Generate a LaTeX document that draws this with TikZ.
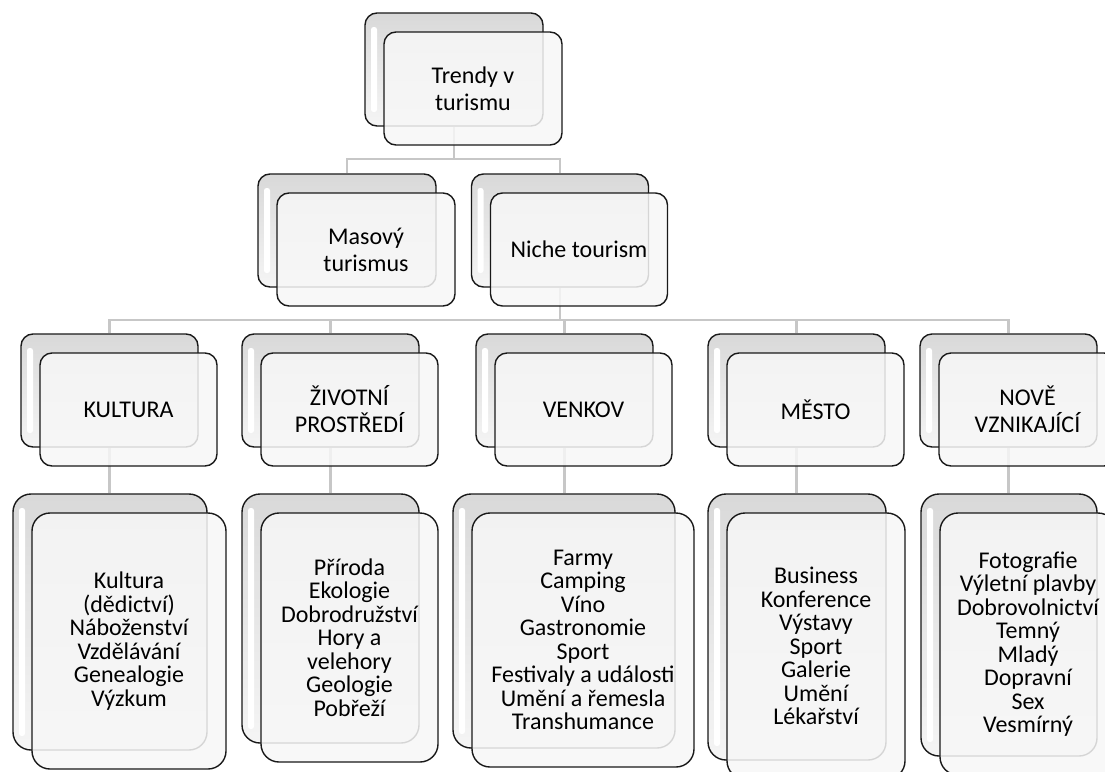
\documentclass[tikz,border=0pt]{standalone}
\usepackage{fontspec}
\setmainfont{Carlito}
\usetikzlibrary{backgrounds}
\AtBeginDocument{\lineskiplimit=-30pt\relax}

\tikzset{
  backbox/.style={draw=black!90, line width=1.4pt, rounded corners=12pt, inner sep=0pt,
    top color=black!15, bottom color=black!4,
    path picture={\fill[white, rounded corners=2.5pt]
      ([xshift=6pt,yshift=-14pt]path picture bounding box.north west) rectangle
      ([xshift=12pt,yshift=14pt]path picture bounding box.south west);}},
  frontbox/.style={draw=black!90, line width=1.4pt, rounded corners=12pt,
    fill=black!3, fill opacity=0.85, text opacity=1, align=center,
    font=\fontsize{24}{27}\selectfont},
  listbox/.style={frontbox, rounded corners=18pt,
    font=\fontsize{24}{23.5}\selectfont},
  tallback/.style={backbox, rounded corners=18pt},
  link/.style={draw=black!22, line width=2.5pt}
}

\begin{document}
\begin{tikzpicture}[x=1pt, y=-1pt]
  \useasboundingbox (0,0) rectangle (1105,771);
  \clip (0,0) rectangle (1105,771);

  % Level 1
  \node[backbox, minimum width=178pt, minimum height=113pt] (trend-b) at (454,69.5) {};
  \node[frontbox, minimum width=178pt, minimum height=113pt] (trend-f) at ([shift={(19,19)}]trend-b) {Trendy v\\turismu};

  % Level 2
  \node[backbox, minimum width=178pt, minimum height=113pt] (masovy-b) at (347,230.5) {};
  \node[frontbox, minimum width=178pt, minimum height=113pt] (masovy-f) at ([shift={(19,19)}]masovy-b) {Masový\\turismus};
  \node[backbox, minimum width=177pt, minimum height=113pt] (niche-b) at (560,230.5) {};
  \node[frontbox, minimum width=177pt, minimum height=113pt] (niche-f) at ([shift={(19,19)}]niche-b) {Niche tourism};

  % Level 3
  \node[backbox, minimum width=177pt, minimum height=113pt] (kultura-b) at (109.5,390.5) {};
  \node[frontbox, minimum width=177pt, minimum height=113pt] (kultura-f) at ([shift={(19,19)}]kultura-b) {KULTURA};
  \node[backbox, minimum width=177pt, minimum height=113pt] (prostredi-b) at (330.5,390.5) {};
  \node[frontbox, minimum width=177pt, minimum height=113pt] (prostredi-f) at ([shift={(19,19)}]prostredi-b) {ŽIVOTNÍ\\PROSTŘEDÍ};
  \node[backbox, minimum width=177pt, minimum height=113pt] (venkov-b) at (564.5,390.5) {};
  \node[frontbox, minimum width=177pt, minimum height=113pt] (venkov-f) at ([shift={(19,19)}]venkov-b) {VENKOV};
  \node[backbox, minimum width=177pt, minimum height=113pt] (mesto-b) at (796.5,390.5) {};
  \node[frontbox, minimum width=177pt, minimum height=113pt] (mesto-f) at ([shift={(19,19)}]mesto-b) {MĚSTO};
  \node[backbox, minimum width=177pt, minimum height=113pt] (nove-b) at (1008.5,390.5) {};
  \node[frontbox, minimum width=177pt, minimum height=113pt] (nove-f) at ([shift={(19,19)}]nove-b) {NOVĚ\\VZNIKAJÍCÍ};

  % Level 4
  \node[tallback, minimum width=194pt, minimum height=256pt] (kulturaL-b) at (110,622) {};
  \node[listbox, minimum width=194pt, minimum height=256pt] (kulturaL-f) at ([shift={(19,19)}]kulturaL-b)
    {Kultura\\{(dědictví)}\\Náboženství\\Vzdělávání\\Genealogie\\Výzkum};
  \node[tallback, minimum width=177pt, minimum height=249pt] (prostrediL-b) at (330.5,618.5) {};
  \node[listbox, minimum width=177pt, minimum height=249pt] (prostrediL-f) at ([shift={(19,19)}]prostrediL-b)
    {Příroda\\Ekologie\\Dobrodružství\\Hory a\\velehory\\Geologie\\Pobřeží};
  \node[tallback, minimum width=222pt, minimum height=254pt] (venkovL-b) at (564,621) {};
  \node[listbox, minimum width=222pt, minimum height=254pt] (venkovL-f) at ([shift={(19,19)}]venkovL-b)
    {Farmy\\Camping\\Víno\\Gastronomie\\Sport\\Festivaly a události\\Umění a řemesla\\Transhumance};
  \node[tallback, minimum width=178pt, minimum height=266pt] (mestoL-b) at (797,627) {};
  \node[listbox, minimum width=178pt, minimum height=266pt] (mestoL-f) at ([shift={(19,19)}]mestoL-b)
    {Business\\Konference\\Výstavy\\Sport\\Galerie\\Umění\\Lékařství};
  \node[tallback, minimum width=176pt, minimum height=262pt] (noveL-b) at (1009,625) {};
  \node[listbox, minimum width=176pt, minimum height=262pt] (noveL-f) at ([shift={(19,19)}]noveL-b)
    {Fotografie\\Výletní plavby\\Dobrovolnictví\\Temný\\Mladý\\Dopravní\\Sex\\Vesmírný};

  % Connectors
  \coordinate (j1) at (0,159);
  \coordinate (j2) at (0,320);
  \begin{scope}[on background layer]
    \fill[white] (0,0) rectangle (1105,771);
    \draw[link] (trend-b.south) -- (trend-b.south |- j1) -| (masovy-b.north);
    \draw[link] (trend-b.south |- j1) -| (niche-b.north);
    \draw[link] (niche-b.south) -- (niche-b.south |- j2) -| (kultura-b.north);
    \draw[link] (niche-b.south |- j2) -| (prostredi-b.north);
    \draw[link] (niche-b.south |- j2) -| (venkov-b.north);
    \draw[link] (niche-b.south |- j2) -| (mesto-b.north);
    \draw[link] (niche-b.south |- j2) -| (nove-b.north);
    \draw[link] (kultura-b.south) -- (kultura-b.south |- kulturaL-b.north);
    \draw[link] (prostredi-b.south) -- (prostredi-b.south |- prostrediL-b.north);
    \draw[link] (venkov-b.south) -- (venkov-b.south |- venkovL-b.north);
    \draw[link] (mesto-b.south) -- (mesto-b.south |- mestoL-b.north);
    \draw[link] (nove-b.south) -- (nove-b.south |- noveL-b.north);
  \end{scope}
\end{tikzpicture}
\end{document}
